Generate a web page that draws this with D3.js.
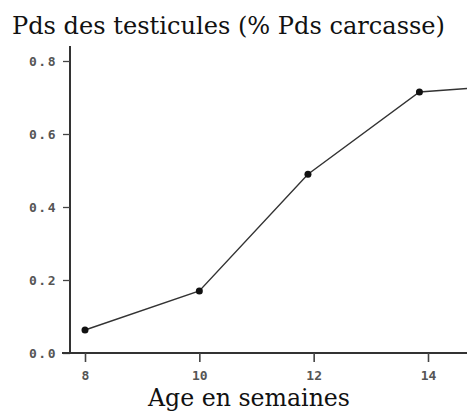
<!DOCTYPE html>
<html>
<head>
<meta charset="utf-8">
<style>
  body { margin: 0; background: #fff; }
</style>
</head>
<body>
<div id="chart"></div>
<script src="https://d3js.org/d3.v7.min.js"></script>
<script>
  // data
  var ages = [8, 10, 11.9, 13.85, 14.7]
  var poids = [0.063, 0.17, 0.49, 0.715, 0.725]
  var marked = [true, true, true, true, false]
  var yTicks = [0, 0.2, 0.4, 0.6, 0.8]
  var xTicks = [8, 10, 12, 14]
  var yTickLabels = ["0.0", "0.2", "0.4", "0.6", "0.8"]
  var xTickLabels = ["8", "10", "12", "14"]

  var W = 467, H = 416

  var svg = d3.select("#chart").append("svg")
    .attr("width", W)
    .attr("height", H)

  var x = d3.scaleLinear().domain([8, 14]).range([85, 428])
  var y = d3.scaleLinear().domain([0, 0.8]).range([353, 61])

  // titles
  svg.append("text")
    .attr("x", 12)
    .attr("y", 34)
    .attr("font-family", "DejaVu Serif, serif")
    .attr("font-size", 24)
    .attr("textLength", 433)
    .attr("lengthAdjust", "spacingAndGlyphs")
    .attr("fill", "#111")
    .text("Pds des testicules (% Pds carcasse)")

  svg.append("text")
    .attr("x", 148)
    .attr("y", 406)
    .attr("font-family", "DejaVu Serif, serif")
    .attr("font-size", 24)
    .attr("textLength", 202)
    .attr("lengthAdjust", "spacingAndGlyphs")
    .attr("fill", "#111")
    .text("Age en semaines")

  // y axis
  var yAxis = d3.axisLeft(y)
    .tickValues(yTicks)
    .tickSize(7)
    .tickPadding(6)
    .tickFormat((d, i) => yTickLabels[i])

  var gy = svg.append("g")
    .attr("transform", "translate(70,0)")
    .call(yAxis)
  gy.select(".domain").attr("d", "M0,46V353").attr("stroke", "#333").attr("stroke-width", 2)
  gy.selectAll(".tick line").attr("stroke", "#444").attr("stroke-width", 1.3)
  gy.selectAll(".tick text")
    .attr("font-family", "DejaVu Sans Mono, monospace")
    .attr("font-size", 13)
    .attr("font-weight", "bold")
    .attr("letter-spacing", 1.5)
    .attr("fill", "#555")

  // x axis
  var xAxis = d3.axisBottom(x)
    .tickValues(xTicks)
    .tickSize(9)
    .tickPadding(9)
    .tickFormat((d, i) => xTickLabels[i])

  var gx = svg.append("g")
    .attr("transform", "translate(0,353)")
    .call(xAxis)
  gx.select(".domain").attr("d", "M62,0H467").attr("stroke", "#333").attr("stroke-width", 2)
  gx.selectAll(".tick line").attr("stroke", "#444").attr("stroke-width", 1.6)
  gx.selectAll(".tick text")
    .attr("font-family", "DejaVu Sans Mono, monospace")
    .attr("font-size", 13)
    .attr("font-weight", "bold")
    .attr("fill", "#555")

  // line
  var pts = ages.map((a, i) => ({ age: a, v: poids[i], m: marked[i] }))

  svg.append("path")
    .datum(pts)
    .attr("fill", "none")
    .attr("stroke", "#333")
    .attr("stroke-width", 1.4)
    .attr("d", d3.line().x(d => x(d.age)).y(d => y(d.v)))

  svg.selectAll(".pt")
    .data(pts.filter(d => d.m))
    .enter()
    .append("circle")
    .attr("class", "pt")
    .attr("cx", d => x(d.age))
    .attr("cy", d => y(d.v))
    .attr("r", 3.5)
    .attr("fill", "#111")
</script>
</body>
</html>
